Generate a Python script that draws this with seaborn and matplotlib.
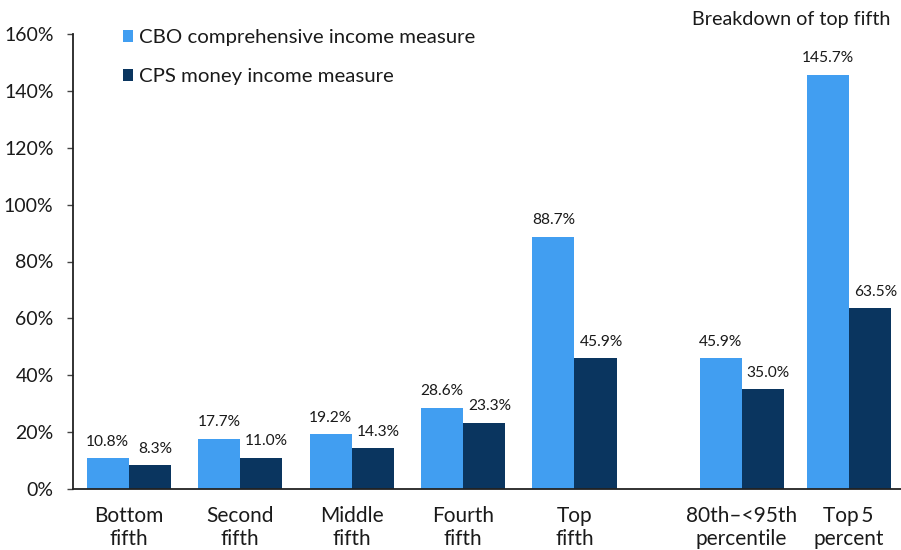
import matplotlib
matplotlib.use("Agg")
import matplotlib.pyplot as plt
import seaborn as sns
import pandas as pd
import numpy as np

# ---- data ----
groups = ["Bottom\nfifth", "Second\nfifth", "Middle\nfifth", "Fourth\nfifth", "Top\nfifth",
          "80th\u2013<95th\npercentile", "Top\u20095\npercent"]
positions = [0, 1, 2, 3, 4, 5.5, 6.46]
series = ["CBO comprehensive income measure", "CPS money income measure"]
cbo_values = [10.8, 17.7, 19.2, 28.6, 88.7, 45.9, 145.7]
cps_values = [8.3, 11.0, 14.3, 23.3, 45.9, 35.0, 63.5]
yticks = [0, 20, 40, 60, 80, 100, 120, 140, 160]
colors = ["#419EF1", "#0A355F"]

df = pd.DataFrame({
    "pos": positions * 2,
    "measure": [series[0]] * len(positions) + [series[1]] * len(positions),
    "value": cbo_values + cps_values,
})

sns.set_style("white")
plt.rcParams["font.family"] = ["Lato", "DejaVu Sans"]
text_color = "#1a1a1a"

fig = plt.figure(figsize=(9.01, 5.5), dpi=100)
ax = fig.add_axes([73 / 901, 61 / 550, 828 / 901, 455 / 550])

min_gap = np.min(np.diff(sorted(positions)))
sns.barplot(data=df, x="pos", y="value", hue="measure", hue_order=series,
            native_scale=True, palette=colors, saturation=1,
            width=0.755 / min_gap, ax=ax, legend=True, errorbar=None,
            linewidth=0)

ax.set_xlim(-0.5, 6.93)
ax.set_ylim(0, 160)
ax.set_yticks(yticks)
ax.set_yticklabels([f"{t}%" for t in yticks])
ax.set_xticks(positions)
ax.set_xticklabels(groups, linespacing=1.22)
ax.set_xlabel("")
ax.set_ylabel("")

for s in ["top", "right"]:
    ax.spines[s].set_visible(False)
for s in ["left", "bottom"]:
    ax.spines[s].set_color("#222222")
    ax.spines[s].set_linewidth(1.3)

ax.tick_params(axis="y", direction="out", length=4, width=1, color="#444444",
               pad=10, labelsize=14, labelcolor=text_color, left=True)
ax.tick_params(axis="x", length=0, pad=12, labelsize=15, labelcolor=text_color)

# value labels
for ci, cont in enumerate(ax.containers):
    dx = 0 if ci == 0 else 4
    for p in cont:
        h = p.get_height()
        ax.annotate(f"{h:.1f}%", xy=(p.get_x() + p.get_width() / 2, h),
                    xytext=(dx, 7), textcoords="offset points",
                    ha="center", va="bottom", fontsize=11.2, color=text_color)

leg = ax.legend(loc="upper left", bbox_to_anchor=(123 / 901, 1 - 29 / 550),
                bbox_transform=fig.transFigure, frameon=False, fontsize=14.7,
                handlelength=0.5, handleheight=0.5, handletextpad=0.3,
                labelspacing=1.1, borderpad=0, borderaxespad=0, title=None)
for t in leg.get_texts():
    t.set_color(text_color)

fig.text(890 / 901, 1 - 11 / 550, "Breakdown of top fifth", ha="right", va="top",
         fontsize=14.2, color=text_color)

fig.savefig("out.png", dpi=100)
